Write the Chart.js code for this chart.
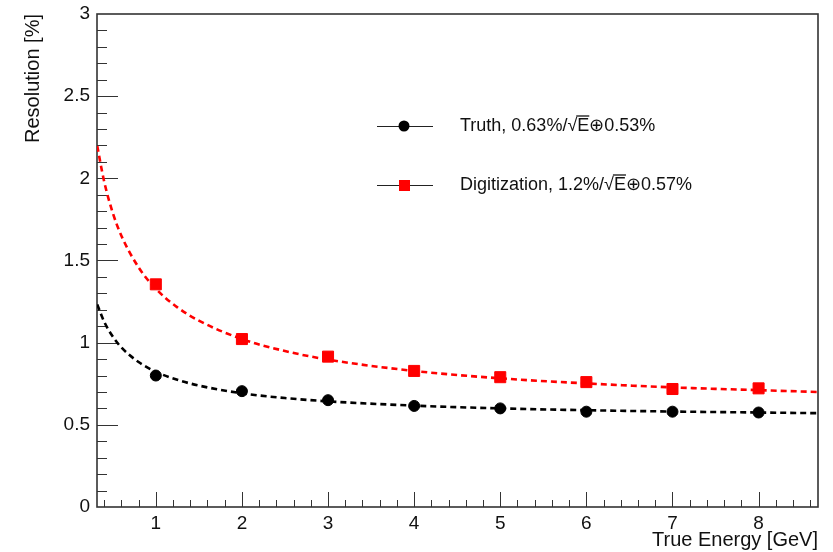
<!DOCTYPE html>
<html>
<head>
<meta charset="utf-8">
<script src="https://cdn.jsdelivr.net/npm/chart.js@4.4.0/dist/chart.umd.min.js"></script>
<style>
  html, body { margin: 0; padding: 0; background: #fff; }
  #wrap { width: 833px; height: 552px; }
</style>
</head>
<body>
<div id="wrap"><canvas id="resolution-chart"></canvas></div>
<script>
// measured resolution per energy point
const energies = [1, 2, 3, 4, 5, 6, 7, 8];
const truthRes = [0.80, 0.705, 0.65, 0.615, 0.60, 0.58, 0.58, 0.575];
const digiRes = [1.355, 1.022, 0.915, 0.828, 0.79, 0.76, 0.718, 0.722];

// points along the fitted curves
const fitEnergies = [0.32, 0.4, 0.5, 0.6, 0.8, 1, 1.25, 1.5, 2, 2.5, 3, 4, 5, 6, 7, 8, 8.69];
const truthFit = [1.233, 1.128, 1.037, 0.971, 0.882, 0.823, 0.774, 0.739, 0.692, 0.663, 0.643, 0.617, 0.600, 0.589, 0.581, 0.575, 0.571];
const digiFit = [2.197, 1.981, 1.790, 1.651, 1.458, 1.328, 1.215, 1.134, 1.022, 0.949, 0.897, 0.828, 0.783, 0.752, 0.728, 0.711, 0.700];

const seriesNames = ["Truth, 0.63%/√E⊕0.53%", "Digitization, 1.2%/√E⊕0.57%"];

const xTicks = [1, 2, 3, 4, 5, 6, 7, 8];
const yTicks = [0, 0.5, 1, 1.5, 2, 2.5, 3];

const FONT = "'Liberation Sans', Arial, sans-serif";
const AXIS = '#333';

function pts(xs, ys) {
    return xs.map((x, i) => ({ x: x, y: ys[i] }));
}

// ROOT style frame with inward ticks
const frameTicks = {
    id: 'frameTicks',
    beforeDatasetsDraw(chart) {
        const { ctx, chartArea: a, scales: { x, y } } = chart;
        ctx.save();
        ctx.strokeStyle = AXIS;
        ctx.lineWidth = 1;
        ctx.beginPath();
        for (let v = 0.4; v <= 8.65; v += 0.2) {
            const px = Math.round(x.getPixelForValue(v)) + 0.5;
            const major = Math.abs(v - Math.round(v)) < 0.01;
            ctx.moveTo(px, a.bottom);
            ctx.lineTo(px, a.bottom - (major ? 15 : 7));
        }
        for (let v = 0.1; v < 2.95; v += 0.1) {
            const py = Math.round(y.getPixelForValue(v)) + 0.5;
            const major = Math.abs(v * 2 - Math.round(v * 2)) < 0.01;
            ctx.moveTo(a.left, py);
            ctx.lineTo(a.left + (major ? 21 : 10), py);
        }
        ctx.stroke();
        ctx.lineWidth = 1.6;
        ctx.strokeRect(a.left, a.top, a.right - a.left, a.bottom - a.top);
        ctx.restore();
    }
};

// legend box drawn inside the frame
const rootLegend = {
    id: 'rootLegend',
    afterDraw(chart) {
        const ctx = chart.ctx;
        const rows = [126, 185];
        ctx.save();
        chart.data.datasets.filter(d => d.inLegend).forEach((ds, i) => {
            const yy = rows[i];
            ctx.strokeStyle = '#222';
            ctx.lineWidth = 1;
            ctx.beginPath();
            ctx.moveTo(377, yy + 0.5);
            ctx.lineTo(433, yy + 0.5);
            ctx.stroke();
            ctx.fillStyle = ds.backgroundColor;
            if (ds.pointStyle === 'rect') {
                ctx.fillRect(399, yy - 5, 11, 11);
            } else {
                ctx.beginPath();
                ctx.arc(404, yy, 5.5, 0, Math.PI * 2);
                ctx.fill();
            }
            // label with radical over E
            ctx.fillStyle = '#111';
            ctx.font = '18px ' + FONT;
            ctx.textBaseline = 'middle';
            const label = ds.label;
            const k = label.indexOf('√');
            let tx = 460;
            const head = label.slice(0, k);
            ctx.fillText(head, tx, yy);
            tx += ctx.measureText(head).width;
            ctx.fillText('√', tx, yy);
            tx += ctx.measureText('√').width;
            ctx.fillText('E', tx, yy);
            const ew = ctx.measureText('E').width;
            ctx.strokeStyle = '#111';
            ctx.lineWidth = 1.3;
            ctx.beginPath();
            ctx.moveTo(tx - 1, yy - 10);
            ctx.lineTo(tx + ew, yy - 10);
            ctx.stroke();
            tx += ew;
            ctx.fillText(label.slice(k + 2), tx, yy);
        });
        ctx.restore();
    }
};

new Chart(document.getElementById('resolution-chart'), {
    type: 'scatter',
    data: {
        datasets: [
            {
                label: seriesNames[0],
                inLegend: true,
                data: pts(energies, truthRes),
                pointStyle: 'circle',
                pointRadius: 5.5,
                backgroundColor: '#000',
                borderColor: '#000',
                borderWidth: 1,
                showLine: false,
                order: 1
            },
            {
                label: seriesNames[1],
                inLegend: true,
                data: pts(energies, digiRes),
                pointStyle: 'rect',
                pointRadius: 7.8,
                backgroundColor: '#ff0000',
                borderColor: '#ff0000',
                borderWidth: 1,
                showLine: false,
                order: 2
            },
            {
                label: 'Truth fit',
                data: pts(fitEnergies, truthFit),
                showLine: true,
                pointRadius: 0,
                borderColor: '#000',
                borderWidth: 2.6,
                borderDash: [6, 4],
                cubicInterpolationMode: 'monotone',
                order: 3
            },
            {
                label: 'Digitization fit',
                data: pts(fitEnergies, digiFit),
                showLine: true,
                pointRadius: 0,
                borderColor: '#ff0000',
                borderWidth: 2.6,
                borderDash: [6, 4],
                cubicInterpolationMode: 'monotone',
                order: 4
            }
        ]
    },
    options: {
        responsive: true,
        maintainAspectRatio: false,
        animation: false,
        layout: { padding: { top: 14, right: 15, left: 0, bottom: 0 } },
        plugins: {
            legend: { display: false },
            tooltip: { enabled: false }
        },
        scales: {
            x: {
                type: 'linear',
                min: 0.317,
                max: 8.69,
                grid: { display: false, drawTicks: false },
                border: { display: false },
                afterBuildTicks: s => { s.ticks = xTicks.map(v => ({ value: v })); },
                afterFit: s => { s.height = 45; s.paddingLeft = 0; s.paddingRight = 0; },
                ticks: {
                    color: '#111',
                    padding: 5,
                    font: { family: FONT, size: 19 },
                    maxRotation: 0
                },
                title: {
                    display: true,
                    text: 'True Energy [GeV]',
                    align: 'end',
                    color: '#111',
                    font: { family: FONT, size: 20 },
                    padding: { top: 0, bottom: 0 }
                }
            },
            y: {
                type: 'linear',
                min: 0,
                max: 3,
                grid: { display: false, drawTicks: false },
                border: { display: false },
                afterBuildTicks: s => { s.ticks = yTicks.map(v => ({ value: v })); },
                afterFit: s => { s.width = 97; s.paddingTop = 0; s.paddingBottom = 0; },
                ticks: {
                    color: '#111',
                    padding: 7,
                    font: { family: FONT, size: 19 },
                    callback: v => String(v)
                },
                title: {
                    display: true,
                    text: 'Resolution [%]',
                    align: 'end',
                    color: '#111',
                    font: { family: FONT, size: 20 },
                    padding: { top: 21, bottom: 0 }
                }
            }
        }
    },
    plugins: [frameTicks, rootLegend]
});
</script>
</body>
</html>
